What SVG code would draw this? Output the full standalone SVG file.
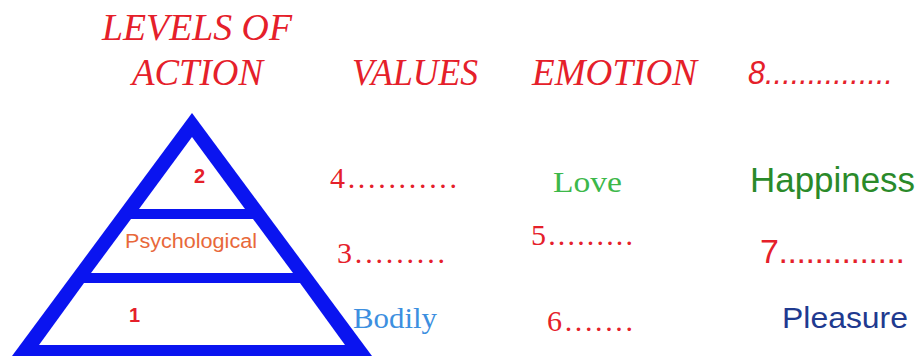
<svg xmlns="http://www.w3.org/2000/svg" width="921" height="356" viewBox="0 0 921 356">
<style>
.hdr{font-family:"Liberation Serif",serif;font-style:italic;font-size:38px;fill:#e5202a}
.ser{font-family:"Liberation Serif",serif;font-size:30px}
.sans{font-family:"Liberation Sans",Arial,sans-serif}
.red{fill:#e5202a}
</style>
<rect width="921" height="356" fill="#ffffff"/>
<g id="headers">
<text class="hdr" x="102" y="40" textLength="190" lengthAdjust="spacingAndGlyphs">LEVELS OF</text>
<text class="hdr" x="132" y="85" textLength="131" lengthAdjust="spacingAndGlyphs">ACTION</text>
<text class="hdr" x="352" y="85" textLength="126" lengthAdjust="spacingAndGlyphs">VALUES</text>
<text class="hdr" x="532" y="85" textLength="165" lengthAdjust="spacingAndGlyphs">EMOTION</text>
<text class="sans red" x="748" y="84" font-size="33" font-style="italic" textLength="145" lengthAdjust="spacingAndGlyphs">8...............</text>
</g>
<g id="pyramid">
<polygon points="192,113 12,356 372,356" fill="#0a14f0"/>
<polygon points="192,137 139,209 245,209" fill="#ffffff"/>
<polygon points="131,219 253,219 293,273 91,273" fill="#ffffff"/>
<polygon points="84,283 300,283 345,345 39,345" fill="#ffffff"/>
<text class="sans red" x="194" y="183" font-size="20" font-weight="bold">2</text>
<text class="sans" x="125" y="248" font-size="20" fill="#e8683a" textLength="132" lengthAdjust="spacingAndGlyphs">Psychological</text>
<text class="sans red" x="129" y="322" font-size="20" font-weight="bold">1</text>
</g>
<g id="values">
<text class="ser red" x="330" y="188" textLength="127">4...........</text>
<text class="ser red" x="337" y="263" textLength="108">3.........</text>
<text class="ser" x="353" y="328" fill="#3d8fe0" textLength="84" lengthAdjust="spacingAndGlyphs">Bodily</text>
</g>
<g id="emotion">
<text class="ser" x="553" y="192" font-size="32" fill="#3cb84a" textLength="69" lengthAdjust="spacingAndGlyphs">Love</text>
<text class="ser red" x="531" y="245" textLength="102">5.........</text>
<text class="ser red" x="547" y="331" textLength="86">6.......</text>
</g>
<g id="col8">
<text class="sans" x="750" y="192" font-size="35" fill="#2a8a2a" textLength="165" lengthAdjust="spacingAndGlyphs">Happiness</text>
<text class="sans red" x="760" y="263" font-size="34" textLength="145">7..............</text>
<text class="sans" x="782" y="328" font-size="30" fill="#1f3a8f" textLength="126" lengthAdjust="spacingAndGlyphs">Pleasure</text>
</g>
</svg>
